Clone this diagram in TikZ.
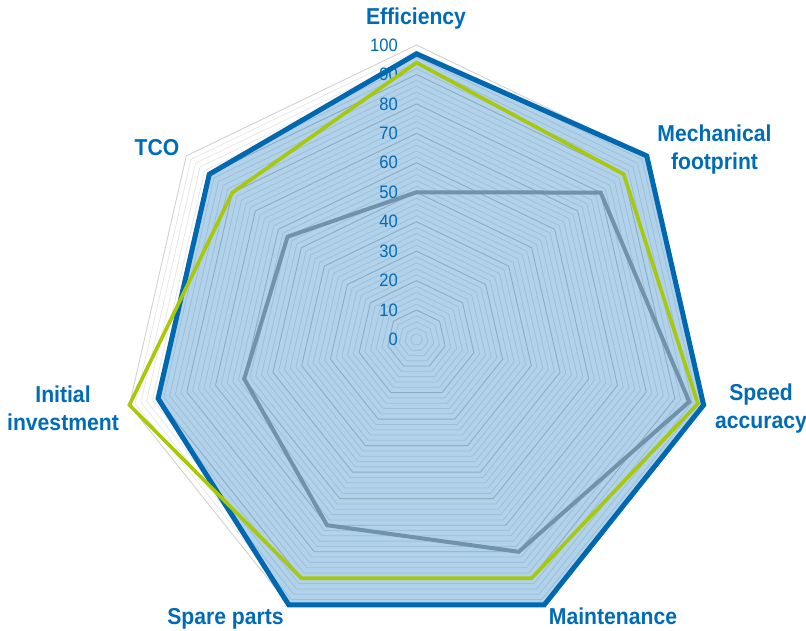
\documentclass[tikz,border=0pt]{standalone}
\usepackage{fontspec}
\setmainfont[FakeStretch=0.92]{Liberation Sans}
\definecolor{serblue}{RGB}{0,103,177}
\definecolor{serfill}{RGB}{176,210,234}
\definecolor{sergreen}{RGB}{170,200,10}
\definecolor{sergray}{RGB}{112,146,170}
\definecolor{txtblue}{RGB}{0,107,182}
\newcommand\radarpoly[7]{(90:#1*2.945) -- (38.5714:#2*2.945) -- (-12.8571:#3*2.945) -- (-64.2857:#4*2.945) -- (-115.7143:#5*2.945) -- (-167.1429:#6*2.945) -- (141.4286:#7*2.945) -- cycle}
\tikzset{
  minorgrid/.style={draw=black, draw opacity=0.09, line width=0.8pt},
  majorgrid/.style={draw=black, draw opacity=0.18, line width=0.9pt},
  seriesline/.style={line join=miter, miter limit=10},
  axislabel/.style={font=\bfseries\fontsize{23}{28.5}\selectfont, text=txtblue, inner sep=0pt, align=center},
  ticklabel/.style={font=\fontsize{18}{20}\selectfont, text=txtblue, inner sep=0pt, anchor=east}
}
\begin{document}
\begin{tikzpicture}[x=1pt,y=1pt]
\useasboundingbox (0,0) rectangle (806,-631);
\begin{scope}[shift={(416.5,-339.5)}]
  % filled series
  \fill[serfill] \radarpoly{97}{100}{100}{100}{100}{90}{90};
  % grid
  \foreach \v in {2,4,...,100}{
    \pgfmathtruncatemacro\m{mod(\v,10)}
    \ifnum\m=0
      \draw[majorgrid] \radarpoly{\v}{\v}{\v}{\v}{\v}{\v}{\v};
    \else
      \draw[minorgrid] \radarpoly{\v}{\v}{\v}{\v}{\v}{\v}{\v};
    \fi
  }
  % tick labels
  \foreach \v in {0,10,...,100}{
    \node[ticklabel] (t\v) at (-18.5,\v*2.945) {\v};
  }
  % series lines
  \draw[seriesline, serblue, line width=5pt] \radarpoly{97}{100}{100}{100}{100}{90}{90};
  \draw[seriesline, sergray, line width=4pt] \radarpoly{50}{80}{95}{80}{70}{60}{56};
  \draw[seriesline, sergreen, line width=3.6pt] \radarpoly{94}{90}{98}{90}{90}{100}{80};
\end{scope}
% axis labels
\node[axislabel, anchor=base] (eff) at (416,-25) {Efficiency};
\node[axislabel] (mech) at (714.5,-149.5) {Mechanical\\footprint};
\node[axislabel] (speed) at (761,-408.5) {Speed\\accuracy};
\node[axislabel, anchor=base] (maint) at (613,-624) {Maintenance};
\node[axislabel, anchor=base] (spare) at (225.5,-624) {Spare parts};
\node[axislabel] (init) at (63,-408.5) {Initial\\investment};
\node[axislabel, anchor=base] (tco) at (157,-156) {TCO};
\end{tikzpicture}
\end{document}
